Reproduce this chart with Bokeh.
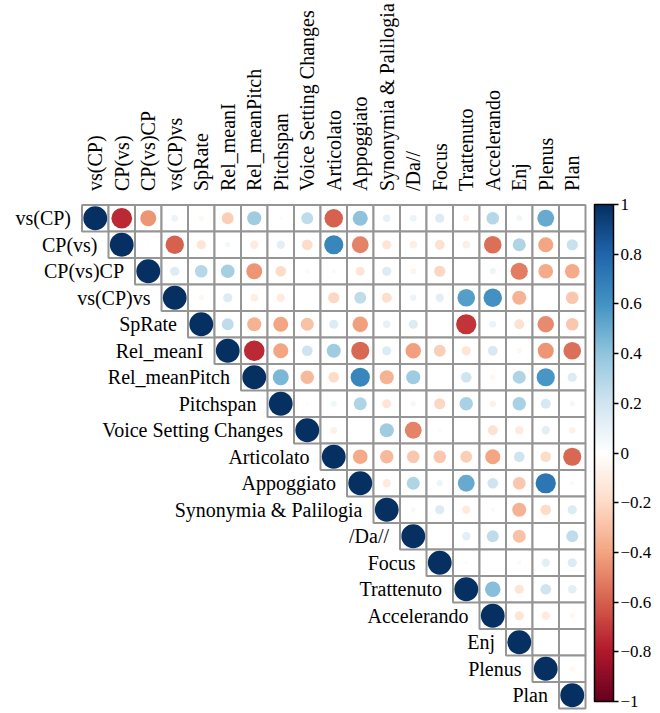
import math
from bokeh.plotting import figure
from bokeh.models import (ColumnDataSource, Range1d, LinearColorMapper, ColorBar,
                          FixedTicker, CustomJSTickFormatter)
from bokeh.core.properties import value
from bokeh.embed import file_html
from bokeh.resources import INLINE

# ---------------- data ----------------
variables = ["vs(CP)", "CP(vs)", "CP(vs)CP", "vs(CP)vs", "SpRate", "Rel_meanI",
             "Rel_meanPitch", "Pitchspan", "Voice Setting Changes", "Articolato",
             "Appoggiato", "Synonymia & Palilogia", "/Da//", "Focus", "Trattenuto",
             "Accelerando", "Enj", "Plenus", "Plan"]

# upper-triangle correlations, row by row (columns to the right of the diagonal)
row_vsCP = [-0.75, -0.45, 0.08, -0.05, -0.25, 0.35, 0.02, 0.25, -0.6, 0.4, 0.1, 0.08, 0.15, -0.07, 0.28, 0.06, 0.5, 0.01]
row_CPvs = [-0.02, -0.6, -0.15, 0.05, -0.12, 0.12, -0.2, 0.65, -0.5, -0.15, -0.1, -0.17, -0.1, -0.55, 0.3, -0.4, 0.22]
row_CPvsCP = [0.15, 0.28, 0.33, -0.45, -0.2, -0.04, 0.03, -0.15, 0.15, -0.06, -0.22, -0.01, 0.07, -0.52, -0.38, -0.38]
row_vsCPvs = [-0.05, 0.15, -0.1, -0.12, 0.01, -0.22, 0.25, -0.18, 0.07, 0.12, 0.55, 0.6, -0.35, 0.01, -0.28]
row_SpRate = [0.25, -0.35, -0.4, -0.3, 0.15, -0.42, 0.1, 0.15, 0.0, -0.72, 0.08, -0.17, -0.48, -0.28]
row_RelMeanI = [-0.75, -0.4, 0.2, 0.35, -0.58, 0.15, -0.42, -0.25, -0.15, 0.17, -0.05, -0.45, -0.55]
row_RelMeanPitch = [0.45, -0.32, -0.2, 0.65, -0.35, 0.35, 0.01, 0.2, -0.05, 0.3, 0.58, 0.15]
row_Pitchspan = [0.02, 0.06, 0.3, -0.15, 0.05, -0.22, 0.32, -0.07, 0.32, 0.18, 0.05]
row_VSC = [-0.08, 0.01, 0.35, -0.5, -0.03, 0.0, -0.17, -0.12, 0.12, -0.08]
row_Articolato = [-0.38, -0.32, -0.28, -0.28, -0.25, -0.4, 0.2, -0.2, -0.58]
row_Appoggiato = [-0.12, 0.3, 0.07, 0.5, 0.2, -0.28, 0.72, 0.03]
row_Synonymia = [0.04, 0.15, -0.12, 0.03, -0.35, -0.2, 0.15]
row_Da = [-0.01, 0.12, 0.25, -0.3, 0.01, 0.25]
row_Focus = [0.02, 0.0, 0.03, 0.12, 0.15]
row_Trattenuto = [0.42, -0.15, 0.2, 0.13]
row_Accelerando = [-0.15, -0.12, -0.05]
row_Enj = [0.01, 0.0]
row_Plenus = [-0.05]
row_Plan = []

colorbar_ticks = [-1, -0.8, -0.6, -0.4, -0.2, 0, 0.2, 0.4, 0.6, 0.8, 1]

rows = [row_vsCP, row_CPvs, row_CPvsCP, row_vsCPvs, row_SpRate, row_RelMeanI,
        row_RelMeanPitch, row_Pitchspan, row_VSC, row_Articolato, row_Appoggiato,
        row_Synonymia, row_Da, row_Focus, row_Trattenuto, row_Accelerando,
        row_Enj, row_Plenus, row_Plan]

# ---------------- palette (RdBu, 200 steps) ----------------
anchors = ["#67001F", "#B2182B", "#D6604D", "#F4A582", "#FDDBC7", "#FFFFFF",
           "#D1E5F0", "#92C5DE", "#4393C3", "#2166AC", "#053061"]


def hex2rgb(h):
    h = h.lstrip("#")
    return [int(h[k:k + 2], 16) for k in (0, 2, 4)]


def make_palette(n):
    cols = [hex2rgb(a) for a in anchors]
    out = []
    for k in range(n):
        t = k / (n - 1) * (len(cols) - 1)
        i0 = min(int(math.floor(t)), len(cols) - 2)
        f = t - i0
        c = [round(cols[i0][m] + (cols[i0 + 1][m] - cols[i0][m]) * f) for m in range(3)]
        out.append("#%02x%02x%02x" % tuple(c))
    return out


palette = make_palette(200)
mapper = LinearColorMapper(palette=palette, low=-1, high=1)

# ---------------- build cell table ----------------
n = len(variables)
xs, ys, rs, rad = [], [], [], []
for i in range(n):
    vals = [1.0] + rows[i]
    for k, v in enumerate(vals):
        j = i + k
        xs.append(j)
        ys.append(-i)
        rs.append(v)
        rad.append(0.45 * math.sqrt(abs(v)))
cells = ColumnDataSource(dict(x=xs, y=ys, r=rs, rad=rad))

# ---------------- layout ----------------
W, H = 660, 713
S = 26.5          # px per cell
X0, Y0 = 94.75, 217.75

p = figure(width=W, height=H, output_backend="svg", toolbar_location=None,
           x_range=Range1d(-X0 / S, (W - X0) / S), y_range=Range1d(-(H - Y0) / S, Y0 / S),
           min_border=0, x_axis_location=None, y_axis_location=None)
p.grid.visible = False
p.outline_line_color = None
p.background_fill_color = "white"
p.border_fill_color = "white"

p.rect(x="x", y="y", width=1, height=1, source=cells, fill_color="white",
       line_color="#959595", line_width=2)
p.circle(x="x", y="y", radius="rad", source=cells,
         fill_color={"field": "r", "transform": mapper}, line_color=None)

font = value("Liberation Serif")
col_src = ColumnDataSource(dict(x=list(range(n)), y=[0.5 + 14 / S] * n, t=variables))
p.text(x="x", y="y", text="t", source=col_src, angle=math.pi / 2, text_align="left",
       text_baseline="middle", text_font=font, text_font_size=value("20px"),
       text_color="black")

row_src = ColumnDataSource(dict(x=[i - 0.5 - 11 / S for i in range(n)],
                                y=[-i for i in range(n)], t=variables))
p.text(x="x", y="y", text="t", source=row_src, text_align="right",
       text_baseline="middle", text_font=font, text_font_size=value("20px"),
       text_color="black")

cb = ColorBar(color_mapper=mapper, ticker=FixedTicker(ticks=colorbar_ticks),
              formatter=CustomJSTickFormatter(code="""
                  const v = Math.round(tick*10)/10;
                  return v < 0 ? "\\u2212" + String(-v) : String(v);
              """),
              orientation="vertical", location=(594, 12), width=19, height=497,
              padding=0, margin=0, bar_line_color="black", bar_line_width=1.5,
              major_tick_in=0, major_tick_out=5, major_tick_line_color="black",
              major_tick_line_width=1.5,
              major_label_text_font="Liberation Serif", major_label_text_font_size="17px",
              major_label_text_color="black", label_standoff=2,
              background_fill_alpha=0, border_line_color=None)
p.add_layout(cb, "center")

open("out.html", "w").write(file_html(p, INLINE))
